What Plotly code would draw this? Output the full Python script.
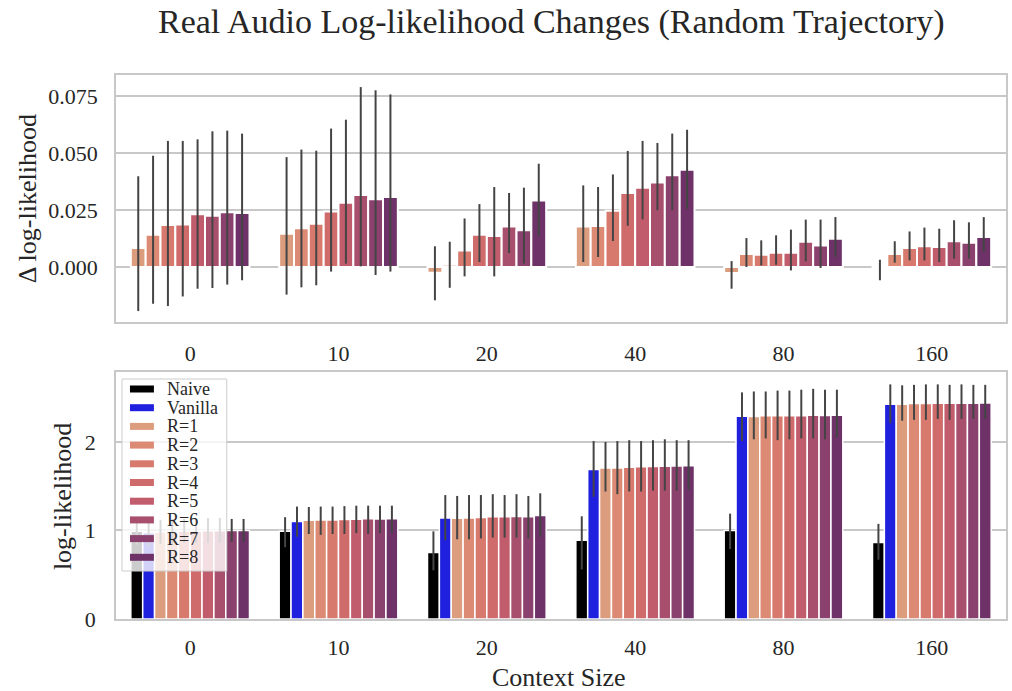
import plotly.graph_objects as go

# ---- data -------------------------------------------------------------
contexts = ["0", "10", "20", "40", "80", "160"]
r_labels = ["R=1", "R=2", "R=3", "R=4", "R=5", "R=6", "R=7", "R=8"]

# change in log-likelihood relative to Vanilla (mean, upper CI, lower CI) per R
delta_mean = [
    [0.0083, 0.0146, -0.0025, 0.0178, -0.0026, -0.0005],
    [0.0142, 0.0170, 0.0010, 0.0180, 0.0057, 0.0057],
    [0.0184, 0.0190, 0.0073, 0.0247, 0.0054, 0.0083],
    [0.0187, 0.0243, 0.0142, 0.0325, 0.0063, 0.0091],
    [0.0231, 0.0282, 0.0136, 0.0348, 0.0063, 0.0088],
    [0.0225, 0.0316, 0.0178, 0.0371, 0.0111, 0.0113],
    [0.0240, 0.0297, 0.0161, 0.0402, 0.0094, 0.0107],
    [0.0237, 0.0307, 0.0292, 0.0427, 0.0124, 0.0132],
]
delta_hi = [
    [0.0398, 0.0482, 0.0091, 0.0358, 0.0026, 0.0032],
    [0.0488, 0.0515, 0.0111, 0.0351, 0.0127, 0.0113],
    [0.0553, 0.0510, 0.0213, 0.0406, 0.0117, 0.0156],
    [0.0553, 0.0607, 0.0276, 0.0509, 0.0139, 0.0173],
    [0.0560, 0.0646, 0.0351, 0.0553, 0.0164, 0.0168],
    [0.0595, 0.0789, 0.0325, 0.0544, 0.0208, 0.0205],
    [0.0598, 0.0775, 0.0348, 0.0585, 0.0208, 0.0196],
    [0.0585, 0.0757, 0.0453, 0.0602, 0.0219, 0.0219],
]
delta_lo = [
    [-0.0193, -0.0121, -0.0146, 0.0022, -0.0095, -0.0058],
    [-0.0161, -0.0089, -0.0091, 0.0044, 0.0000, 0.0019],
    [-0.0171, -0.0080, -0.0041, 0.0114, 0.0007, 0.0029],
    [-0.0129, -0.0020, 0.0022, 0.0181, 0.0010, 0.0029],
    [-0.0095, 0.0015, -0.0041, 0.0209, -0.0015, 0.0022],
    [-0.0092, 0.0003, 0.0061, 0.0249, 0.0025, 0.0037],
    [-0.0077, -0.0035, 0.0015, 0.0249, -0.0004, 0.0037],
    [-0.0058, -0.0020, 0.0135, 0.0255, 0.0044, 0.0066],
]

# absolute log-likelihood
naive_mean = [0.99, 0.99, 0.75, 0.89, 1.00, 0.865]
naive_hi = [1.14, 1.15, 0.99, 1.16, 1.19, 1.075]
naive_lo = [0.84, 0.81, 0.55, 0.56, 0.79, 0.67]

vanilla_mean = [0.975, 1.10, 1.14, 1.688, 2.29, 2.427]
vanilla_hi = [1.12, 1.27, 1.40, 2.01, 2.56, 2.65]
vanilla_lo = [0.82, 0.93, 0.89, 1.38, 2.01, 2.21]

r_mean = [
    [0.983, 1.115, 1.138, 1.706, 2.287, 2.427],
    [0.989, 1.117, 1.141, 1.706, 2.296, 2.433],
    [0.993, 1.119, 1.147, 1.713, 2.295, 2.435],
    [0.994, 1.124, 1.154, 1.721, 2.296, 2.436],
    [0.998, 1.128, 1.154, 1.723, 2.296, 2.436],
    [0.997, 1.132, 1.158, 1.725, 2.301, 2.438],
    [0.999, 1.130, 1.156, 1.728, 2.299, 2.438],
    [0.999, 1.131, 1.169, 1.731, 2.302, 2.440],
]
r_hi = [
    [1.12, 1.265, 1.39, 2.00, 2.57, 2.64],
    [1.13, 1.27, 1.40, 2.01, 2.57, 2.645],
    [1.13, 1.27, 1.40, 2.02, 2.58, 2.65],
    [1.13, 1.275, 1.41, 2.01, 2.58, 2.65],
    [1.14, 1.28, 1.40, 2.02, 2.59, 2.645],
    [1.14, 1.28, 1.41, 2.03, 2.60, 2.65],
    [1.13, 1.28, 1.39, 2.02, 2.59, 2.645],
    [1.13, 1.28, 1.42, 2.02, 2.59, 2.645],
]
r_lo = [
    [0.85, 0.96, 0.90, 1.44, 2.03, 2.24],
    [0.85, 0.95, 0.90, 1.41, 2.04, 2.25],
    [0.86, 0.96, 0.91, 1.44, 2.02, 2.25],
    [0.86, 0.96, 0.92, 1.44, 2.03, 2.26],
    [0.86, 0.97, 0.92, 1.45, 2.04, 2.25],
    [0.86, 0.96, 0.92, 1.45, 2.04, 2.26],
    [0.87, 0.97, 0.91, 1.45, 2.03, 2.26],
    [0.87, 0.97, 0.93, 1.46, 2.05, 2.26],
]

naive_color = "#000000"
vanilla_color = "#2020df"
r_colors = ["#dc9c7e", "#dc8a73", "#d77a6d", "#cf6b6a",
            "#c15c6c", "#a84f6e", "#8b416d", "#6e3268"]

# ---- layout geometry (pixels) ------------------------------------------
W, H = 1012, 691
ML, MR, MT, MB = 116, 4, 75, 72
PW, PH = W - ML - MR, H - MT - MB
TOP_BOTTOM_PX = 322
BOT_TOP_PX = 372
FONT = "Liberation Serif"
TXT = "#262626"
ERR = "#444444"


def px_x(px):
    return (px - ML) / PW


def px_y(py):
    return (H - MB - py) / PH


def err(mean, hi, lo):
    return dict(type="data", symmetric=False,
                array=[h - m for h, m in zip(hi, mean)],
                arrayminus=[m - l for m, l in zip(mean, lo)],
                color=ERR, thickness=2, width=0)


fig = go.Figure()

# top panel: change relative to Vanilla
for i, lab in enumerate(r_labels):
    fig.add_trace(go.Bar(
        x=contexts, y=delta_mean[i], name=lab, xaxis="x2", yaxis="y2",
        marker=dict(color=r_colors[i], line=dict(color="white", width=2)),
        error_y=err(delta_mean[i], delta_hi[i], delta_lo[i]),
        showlegend=False))

# bottom panel: absolute log-likelihood
fig.add_trace(go.Bar(
    x=contexts, y=naive_mean, name="Naive",
    marker=dict(color=naive_color, line=dict(color="white", width=1.5)),
    error_y=err(naive_mean, naive_hi, naive_lo), showlegend=False))
fig.add_trace(go.Bar(
    x=contexts, y=vanilla_mean, name="Vanilla",
    marker=dict(color=vanilla_color, line=dict(color="white", width=1.5)),
    error_y=err(vanilla_mean, vanilla_hi, vanilla_lo), showlegend=False))
for i, lab in enumerate(r_labels):
    fig.add_trace(go.Bar(
        x=contexts, y=r_mean[i], name=lab,
        marker=dict(color=r_colors[i], line=dict(color="white", width=1.5)),
        error_y=err(r_mean[i], r_hi[i], r_lo[i]), showlegend=False))

axis_common = dict(
    showline=True, mirror=True, linecolor="#c8c8c8", linewidth=1.6,
    gridcolor="#c8c8c8", gridwidth=1.6, zeroline=False,
    tickfont=dict(family=FONT, size=22, color=TXT), ticks="",
)

fig.update_layout(
    width=W, height=H,
    margin=dict(l=ML, r=MR, t=MT, b=MB),
    paper_bgcolor="white", plot_bgcolor="white",
    barmode="group", bargap=0.2, bargroupgap=0,
    showlegend=False,
    xaxis=dict(type="category", domain=[0, 1], anchor="y", range=[-0.5, 5.5],
               showgrid=False, ticklabelstandoff=8, **axis_common),
    yaxis=dict(domain=[0, px_y(BOT_TOP_PX)], anchor="x", range=[0, 2.79],
               tickvals=[0, 1, 2], ticktext=["0", "1", "2"],
               ticklabelstandoff=14, **axis_common),
    xaxis2=dict(type="category", domain=[0, 1], anchor="y2", range=[-0.5, 5.5],
                showgrid=False, ticklabelstandoff=11, **axis_common),
    yaxis2=dict(domain=[px_y(TOP_BOTTOM_PX), 1], anchor="x2",
                range=[-0.0241, 0.0842],
                tickvals=[0, 0.025, 0.05, 0.075],
                ticktext=["0.000", "0.025", "0.050", "0.075"],
                ticklabelstandoff=12, **axis_common),
)

annotations = [
    dict(text="Real Audio Log-likelihood Changes (Random Trajectory)",
         x=px_x(552), y=px_y(22), xref="paper", yref="paper",
         showarrow=False, xanchor="center", yanchor="middle",
         font=dict(family=FONT, size=34, color=TXT)),
    dict(text="Δ log-likelihood", x=px_x(27), y=px_y(199),
         xref="paper", yref="paper", showarrow=False, textangle=-90,
         xanchor="center", yanchor="middle",
         font=dict(family=FONT, size=26, color=TXT)),
    dict(text="log-likelihood", x=px_x(62), y=px_y(497),
         xref="paper", yref="paper", showarrow=False, textangle=-90,
         xanchor="center", yanchor="middle",
         font=dict(family=FONT, size=26, color=TXT)),
    dict(text="Context Size", x=px_x(560), y=px_y(677),
         xref="paper", yref="paper", showarrow=False,
         xanchor="center", yanchor="middle",
         font=dict(family=FONT, size=26, color=TXT)),
]

# legend drawn inside the lower panel
shapes = [dict(type="rect", xref="paper", yref="paper", layer="above",
               x0=px_x(122), x1=px_x(227), y0=px_y(571), y1=px_y(379),
               fillcolor="rgba(255,255,255,0.8)",
               line=dict(color="#cccccc", width=1))]
legend_names = ["Naive", "Vanilla"] + r_labels
legend_colors = [naive_color, vanilla_color] + r_colors
for k, (nm, col) in enumerate(zip(legend_names, legend_colors)):
    yc = 389 + 18.7 * k
    shapes.append(dict(type="rect", xref="paper", yref="paper", layer="above",
                       x0=px_x(130), x1=px_x(154),
                       y0=px_y(yc + 3.5), y1=px_y(yc - 3.5),
                       fillcolor=col, line=dict(width=0)))
    annotations.append(dict(text=nm, x=px_x(165), y=px_y(yc),
                            xref="paper", yref="paper", showarrow=False,
                            xanchor="left", yanchor="middle",
                            font=dict(family=FONT, size=18, color=TXT)))

fig.update_layout(shapes=shapes, annotations=annotations)

fig.write_html("out.html")
